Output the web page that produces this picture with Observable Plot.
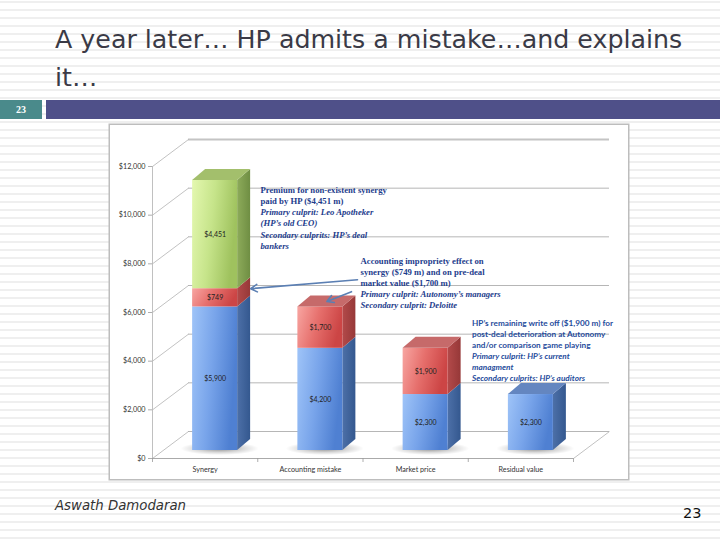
<!DOCTYPE html>
<html><head><meta charset="utf-8">
<script src="https://cdn.jsdelivr.net/npm/d3@7"></script>
<script src="https://cdn.jsdelivr.net/npm/@observablehq/plot@0.6"></script>
<style>
html,body{margin:0;padding:0;}
body{width:720px;height:540px;position:relative;overflow:hidden;
 background: repeating-linear-gradient(to bottom, #fff 0px, #fff 1px, #efefef 1px, #efefef 3px, #fff 3px, #fff 8px);}
#title{position:absolute;left:55px;top:21px;font-family:"DejaVu Sans",sans-serif;font-size:25.3px;line-height:38px;color:#3a3a46;white-space:nowrap;}
#numbox{position:absolute;left:0;top:100px;width:42px;height:19px;background:#4a8a8b;color:#fff;font:bold 10px "Liberation Serif",serif;text-align:center;line-height:19px;}
#band{position:absolute;left:46px;top:100px;width:674px;height:19px;background:#4f5089;}
#frame{position:absolute;left:110px;top:125px;width:518px;height:354px;background:#fff;box-shadow:0 0 0 1.5px #bdbdbd;}
#frame svg{display:block;}
#author{position:absolute;left:55px;top:498px;font-family:"DejaVu Sans",sans-serif;font-style:italic;font-size:13.3px;color:#333;}
#pnum{position:absolute;left:683px;top:505px;font-family:"DejaVu Sans",sans-serif;font-size:14.5px;color:#111;}
</style></head>
<body>
<div id="title">A year later… HP admits a mistake…and explains<br>it…</div>
<div id="numbox">23</div>
<div id="band"></div>
<div id="frame"></div>
<div id="author">Aswath Damodaran</div>
<div id="pnum">23</div>
<script>
// ---- data ----
const categories  = ["Synergy", "Accounting mistake", "Market price", "Residual value"];
const blueValues  = [5900, 4200, 2300, 2300];
const redValues   = [749, 1700, 1900, 0];
const greenValues = [4451, 0, 0, 0];
const seriesNames = ["blue", "red", "green"];
const yTicks = [0, 2000, 4000, 6000, 8000, 10000, 12000];

const note1Lines  = ["Premium for non-existent synergy", "paid by HP ($4,451 m)", "Primary culprit: Leo Apotheker", "(HP’s old CEO)", "Secondary culprits: HP’s deal", "bankers"];
const note1Italic = [false, false, true, true, true, true];
const note2Lines  = ["Accounting impropriety effect on", "synergy ($749 m) and on pre-deal", "market value ($1,700 m)", "Primary culprit: Autonomy’s managers", "Secondary culprit: Deloitte"];
const note2Italic = [false, false, false, true, true];
const note3Lines  = ["HP’s remaining write off ($1,900 m) for", "post-deal deterioration at Autonomy", "and/or comparison game playing", "Primary culprit: HP’s current", "managment", "Secondary culprits: HP’s auditors"];
const note3Italic = [false, false, false, true, true, true];

// ---- scales / geometry ----
const W = 518, H = 354;
const xOpt = {domain: [0, categories.length], range: [42, 463], axis: null};
const yOpt = {domain: [0, 12000], range: [333, 41], axis: null};
const xs = Plot.scale({x: xOpt}), ys = Plot.scale({y: yOpt});
const kx = (xOpt.domain[1] - xOpt.domain[0]) / (xOpt.range[1] - xOpt.range[0]);
const ky = (yOpt.domain[1] - yOpt.domain[0]) / (yOpt.range[0] - yOpt.range[1]);
const pxX = p => p * kx, pxY = p => p * ky;

const WALL_DX = 36, WALL_DY = -27;   // depth of floor / side wall (px)
const PX = 10, PY = -8;              // bar plane offset (px)
const BW = pxX(45), DX = pxX(13), DY = pxY(11); // bar width & bar depth
const cx = d => d.i + 0.5;

const segs = [];
categories.forEach((c, i) => {
  let lo = 0;
  [blueValues[i], redValues[i], greenValues[i]].forEach((v, s) => {
    if (v > 0) segs.push({i, s: seriesNames[s], id: i + "-" + s, lo, hi: lo + v, v});
    lo += v;
  });
});
const tops = categories.map((c, i) => segs.filter(d => d.i === i).at(-1));
const sides = segs.flatMap(d => [
  {...d, x: cx(d) + BW / 2, y1: d.lo, y2: d.hi},
  {...d, x: cx(d) + BW / 2 + DX, y1: d.lo + DY, y2: d.hi + DY}
]);
const topFaces = tops.flatMap(d => [
  {...d, y: d.hi, x1: cx(d) - BW / 2, x2: cx(d) + BW / 2},
  {...d, y: d.hi + DY, x1: cx(d) - BW / 2 + DX, x2: cx(d) + BW / 2 + DX}
]);
const shadows = categories.map((c, i) => ({i}));

const fills = {
  blue:  {front: "url(#fBlue)",  side: "url(#sBlue)",  top: "#6486c0"},
  red:   {front: "url(#fRed)",   side: "url(#sRed)",   top: "#c66a6a"},
  green: {front: "url(#fGreen)", side: "url(#sGreen)", top: "#a3bf6c"}
};

function noteRows(lines, italic, px, py, step) {
  const x0 = xs.invert(px), y0 = ys.invert(py);
  return lines.map((t, k) => ({t, it: italic[k], x: x0, y: y0 - k * pxY(step)}));
}
const notes12 = [...noteRows(note1Lines, note1Italic, 150, 64.9, 11.1), ...noteRows(note2Lines, note2Italic, 250, 136.2, 11)];
const notes3 = noteRows(note3Lines, note3Italic, 361.5, 197.4, 11);

const barX = x => x + pxX(PX), barY = y => y - pxY(PY);
const n2 = {x: xs.invert(250), y: ys.invert(136.2)};
const arrows = [
  {x1: n2.x - pxX(3), y1: n2.y - pxY(18), x2: barX(0.5 + BW / 2 + DX), y2: barY(blueValues[0] + redValues[0])},
  {x1: n2.x - pxX(9), y1: n2.y - pxY(30), x2: barX(1.5 + DX / 2), y2: barY(blueValues[1] + redValues[1] + DY / 2)}
];

const fmt = v => "$" + d3.format(",")(v);
const gridColor = "#a3a3a3";

const plot = Plot.plot({
  width: W, height: H,
  marginLeft: 42, marginRight: 55, marginTop: 41, marginBottom: 21,
  x: xOpt, y: yOpt,
  style: {fontFamily: "Lato, sans-serif", background: "white"},
  marks: [
    // back wall gridlines
    Plot.ruleY(yTicks.slice(0, -1), {x1: 0, x2: categories.length, dx: WALL_DX, dy: WALL_DY, stroke: gridColor, strokeWidth: 0.8}),
    Plot.ruleY([yTicks.at(-1)], {x1: 0, x2: categories.length, dx: WALL_DX, dy: WALL_DY, stroke: "#c4c4c4", strokeWidth: 1.8}),
    // side wall diagonals
    Plot.link(yTicks, {x1: 0, y1: d => d, x2: pxX(WALL_DX), y2: d => d - pxY(WALL_DY), stroke: "#a8a8a8", strokeWidth: 0.7}),
    Plot.link([0], {x1: categories.length, y1: 0, x2: categories.length + pxX(WALL_DX), y2: -pxY(WALL_DY), stroke: "#a8a8a8", strokeWidth: 0.7}),
    // front axis line & floor edge
    Plot.ruleX([0], {y1: 0, y2: 12000, stroke: "#b0b0b0", strokeWidth: 0.8}),
    Plot.ruleY([0], {x1: 0, x2: categories.length, stroke: "#a0a0a0", strokeWidth: 0.9}),
    Plot.ruleY(yTicks, {x1: -pxX(4), x2: 0, stroke: "#999", strokeWidth: 0.8}),
    Plot.ruleX(d3.range(categories.length + 1), {y1: 0, y2: -pxY(4), stroke: "#999", strokeWidth: 0.8}),
    // axis labels
    Plot.text(yTicks, {x: 0, y: d => d, text: fmt, dx: -7, textAnchor: "end", fontSize: 7.2, fill: "#333"}),
    Plot.text(categories, {x: (d, i) => i + 0.5, y: 0, text: d => d, dy: 11, fontSize: 7.2, fill: "#333"}),
    // shadows
    Plot.rect(shadows, {x1: d => cx(d) - pxX(34), x2: d => cx(d) + pxX(44), y1: -pxY(5), y2: pxY(8), fill: "url(#shadow)", dx: PX, dy: PY}),
    // bar faces
    ...seriesNames.map(s => Plot.areaY(sides.filter(d => d.s === s), {x: "x", y1: "y1", y2: "y2", z: "id", fill: fills[s].side, dx: PX, dy: PY})),
    ...seriesNames.map(s => Plot.rect(segs.filter(d => d.s === s), {x1: d => cx(d) - BW / 2, x2: d => cx(d) + BW / 2, y1: "lo", y2: "hi", fill: fills[s].front, dx: PX, dy: PY})),
    ...seriesNames.map(s => Plot.areaX(topFaces.filter(d => d.s === s), {y: "y", x1: "x1", x2: "x2", z: "id", fill: fills[s].top, dx: PX, dy: PY})),
    // value labels
    Plot.text(segs, {x: cx, y: d => (d.lo + d.hi) / 2, text: d => fmt(d.v), fontSize: 7, fill: "#222", dx: PX, dy: PY}),
    // annotations
    Plot.text(notes12.filter(d => !d.it), {x: "x", y: "y", text: "t", textAnchor: "start", fontFamily: "Liberation Serif, serif", fontWeight: "bold", fontSize: 8.7, fill: "#1d3c8c"}),
    Plot.text(notes12.filter(d => d.it), {x: "x", y: "y", text: "t", textAnchor: "start", fontFamily: "Liberation Serif, serif", fontWeight: "bold", fontStyle: "italic", fontSize: 8.7, fill: "#1d3c8c"}),
    Plot.text(notes3.filter(d => !d.it), {x: "x", y: "y", text: "t", textAnchor: "start", fontFamily: "Lato, sans-serif", fontWeight: "bold", fontSize: 8.2, fill: "#1f4c9c"}),
    Plot.text(notes3.filter(d => d.it), {x: "x", y: "y", text: "t", textAnchor: "start", fontFamily: "Lato, sans-serif", fontWeight: "bold", fontStyle: "italic", fontSize: 8.2, fill: "#1f4c9c"}),
    Plot.arrow(arrows, {x1: "x1", y1: "y1", x2: "x2", y2: "y2", bend: 0, stroke: "#5b7fb3", strokeWidth: 1.6, headLength: 7, insetStart: 0, insetEnd: 0})
  ]
});

d3.select(plot).insert("defs", ":first-child").html(`
  <linearGradient id="fBlue" x1="0" y1="0" x2="1" y2="0.25">
    <stop offset="0" stop-color="#9fc4f8"/><stop offset="0.5" stop-color="#78a4ea"/><stop offset="1" stop-color="#4f80d2"/></linearGradient>
  <linearGradient id="sBlue" x1="0" y1="0" x2="1" y2="0">
    <stop offset="0" stop-color="#4d70a8"/><stop offset="1" stop-color="#34588f"/></linearGradient>
  <linearGradient id="fRed" x1="0" y1="0" x2="1" y2="0.25">
    <stop offset="0" stop-color="#f8a6a2"/><stop offset="0.5" stop-color="#e66f6c"/><stop offset="1" stop-color="#cc4545"/></linearGradient>
  <linearGradient id="sRed" x1="0" y1="0" x2="1" y2="0">
    <stop offset="0" stop-color="#b34a4a"/><stop offset="1" stop-color="#963838"/></linearGradient>
  <linearGradient id="fGreen" x1="0" y1="0" x2="1" y2="0.25">
    <stop offset="0" stop-color="#e4f8b0"/><stop offset="0.5" stop-color="#c6e48a"/><stop offset="1" stop-color="#9fc25e"/></linearGradient>
  <linearGradient id="sGreen" x1="0" y1="0" x2="1" y2="0">
    <stop offset="0" stop-color="#8dab5a"/><stop offset="1" stop-color="#6f8e43"/></linearGradient>
  <radialGradient id="shadow" cx="0.5" cy="0.5" r="0.5">
    <stop offset="0" stop-color="#000" stop-opacity="0.45"/><stop offset="0.6" stop-color="#000" stop-opacity="0.15"/><stop offset="1" stop-color="#000" stop-opacity="0"/></radialGradient>
`);
document.getElementById("frame").appendChild(plot);
</script>
</body></html>
